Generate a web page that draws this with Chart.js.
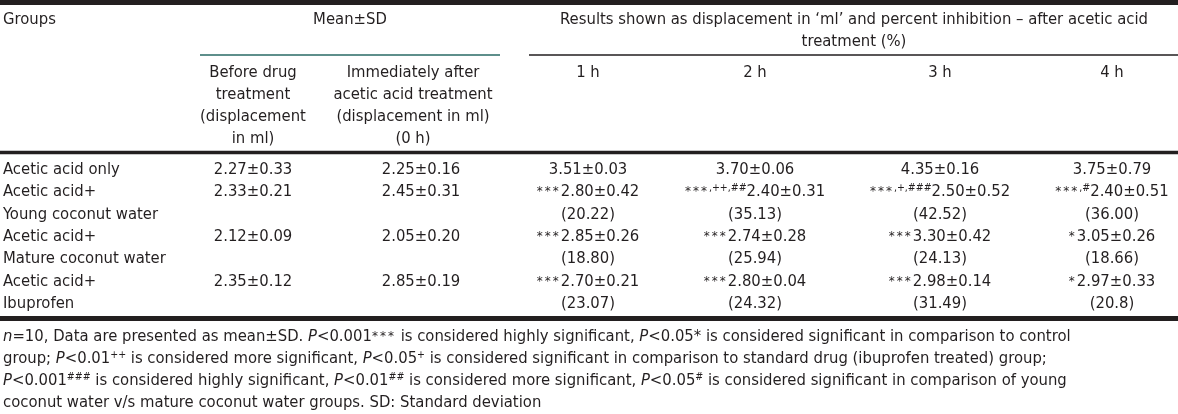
<!DOCTYPE html>
<html>
<head>
<meta charset="utf-8">
<script src="https://cdn.jsdelivr.net/npm/chart.js@4.4.1/dist/chart.umd.min.js"></script>
<style>
  body { margin: 0; background: #fff; }
  canvas { display: block; }
</style>
</head>
<body>
<canvas id="table" width="1178" height="414"></canvas>
<script>
// table contents
const groupNames = ['Acetic acid only', 'Acetic acid+', 'Acetic acid+', 'Acetic acid+'];
const groupSub = ['', 'Young coconut water', 'Mature coconut water', 'Ibuprofen'];
const beforeDrug = ['2.27±0.33', '2.33±0.21', '2.12±0.09', '2.35±0.12'];
const zeroHour = ['2.25±0.16', '2.45±0.31', '2.05±0.20', '2.85±0.19'];
const hourLabels = ['1 h', '2 h', '3 h', '4 h'];
const hour1 = ['3.51±0.03', '2.80±0.42', '2.85±0.26', '2.70±0.21'];
const hour2 = ['3.70±0.06', '2.40±0.31', '2.74±0.28', '2.80±0.04'];
const hour3 = ['4.35±0.16', '2.50±0.52', '3.30±0.42', '2.98±0.14'];
const hour4 = ['3.75±0.79', '2.40±0.51', '3.05±0.26', '2.97±0.33'];
const sig1 = ['', '***', '***', '***'];
const sig2 = ['', '***,++,##', '***', '***'];
const sig3 = ['', '***,+,###', '***', '***'];
const sig4 = ['', '***,#', '*', '*'];
const inhib1 = ['', '20.22', '18.80', '23.07'];
const inhib2 = ['', '35.13', '25.94', '24.32'];
const inhib3 = ['', '42.52', '24.13', '31.49'];
const inhib4 = ['', '36.00', '18.66', '20.8'];

const headGroups = 'Groups';
const headMean = 'Mean±SD';
const headResults = ['Results shown as displacement in ‘ml’ and percent inhibition – after acetic acid', 'treatment (%)'];
const headBefore = ['Before drug', 'treatment', '(displacement', 'in ml)'];
const headZero = ['Immediately after', 'acetic acid treatment', '(displacement in ml)', '(0 h)'];
// _x_ = italic, ^x^ = superscript
const footnote = [
  '_n_=10, Data are presented as mean±SD. _P_<0.001^***^ is considered highly significant, _P_<0.05* is considered significant in comparison to control',
  'group; _P_<0.01^++^ is considered more significant, _P_<0.05^+^ is considered significant in comparison to standard drug (ibuprofen treated) group;',
  '_P_<0.001^###^ is considered highly significant, _P_<0.01^##^ is considered more significant, _P_<0.05^#^ is considered significant in comparison of young',
  'coconut water v/s mature coconut water groups. SD: Standard deviation'
];

// layout
const FONT = '"DejaVu Sans Condensed", "DejaVu Sans"';
const SIZE = 16.5;
const INK = '#231f20';
const colX = { groups: 3, mean: 350, results: 854, before: 253, zeroHead: 413, zero: 421, hours: [588, 755, 940, 1112] };
const headY = [18, 40];
const subY = [71, 93, 115, 137];
const rowTop = 168, rowStep = 22.3;
const footY = [335, 357, 379, 401];

function parseMarkup(str) {
  const runs = [];
  const re = /_([^_]+)_|\^([^^]+)\^|([^_^]+)/g;
  let m;
  while ((m = re.exec(str))) {
    if (m[1]) runs.push({ t: m[1], s: 'i' });
    else if (m[2]) runs.push({ t: m[2], s: /^\*+$/.test(m[2]) ? 'a' : 'p' });
    else runs.push({ t: m[3], s: 'n' });
  }
  return runs;
}

function valueRuns(sig, val) {
  const runs = [];
  const stars = sig.match(/^\**/)[0];
  if (stars) runs.push({ t: stars, s: 'a' });
  if (sig.length > stars.length) runs.push({ t: sig.slice(stars.length), s: 'p' });
  runs.push({ t: val, s: 'n' });
  return runs;
}

// collect every cell as a point + its text
const cells = [];
function addCell(x, y, runs, align) { cells.push({ x, y, runs, align }); }
const plain = t => [{ t, s: 'n' }];

addCell(colX.groups, headY[0], plain(headGroups), 'left');
addCell(colX.mean, headY[0], plain(headMean), 'center');
headResults.forEach((t, i) => addCell(colX.results, headY[i], plain(t), 'center'));
headBefore.forEach((t, i) => addCell(colX.before, subY[i], plain(t), 'center'));
headZero.forEach((t, i) => addCell(colX.zeroHead, subY[i], plain(t), 'center'));
hourLabels.forEach((t, i) => addCell(colX.hours[i], subY[0], plain(t), 'center'));

const hours = [hour1, hour2, hour3, hour4];
const sigs = [sig1, sig2, sig3, sig4];
const inhibs = [inhib1, inhib2, inhib3, inhib4];
groupNames.forEach((g, r) => {
  const y = r === 0 ? rowTop : rowTop + rowStep * (2 * r - 1);
  addCell(colX.groups, y, plain(g), 'left');
  if (groupSub[r]) addCell(colX.groups, y + rowStep, plain(groupSub[r]), 'left');
  addCell(colX.before, y, plain(beforeDrug[r]), 'center');
  addCell(colX.zero, y, plain(zeroHour[r]), 'center');
  hours.forEach((h, c) => {
    addCell(colX.hours[c], y, valueRuns(sigs[c][r], h[r]), 'center');
    if (inhibs[c][r]) addCell(colX.hours[c], y + rowStep, plain('(' + inhibs[c][r] + ')'), 'center');
  });
});
footnote.forEach((line, i) => addCell(colX.groups, footY[i], parseMarkup(line), 'left'));

function fontFor(s) {
  if (s === 'i') return 'italic ' + SIZE + 'px ' + FONT;
  if (s === 'p') return (SIZE - 6) + 'px ' + FONT;
  if (s === 'a') return '12px "DejaVu Sans"';
  return SIZE + 'px ' + FONT;
}
function riseFor(s) {
  if (s === 'p') return -5;
  if (s === 'a') return -1;
  return 0;
}
function spacingFor(s) {
  return s === 'a' ? '2px' : '0px';
}

function drawRuns(ctx, runs, x, y, align) {
  let w = 0;
  runs.forEach(r => {
    ctx.font = fontFor(r.s);
    ctx.letterSpacing = spacingFor(r.s);
    w += ctx.measureText(r.t).width;
  });
  let cx = align === 'center' ? x - w / 2 : x;
  const base = y + 6;
  runs.forEach(r => {
    ctx.font = fontFor(r.s);
    ctx.letterSpacing = spacingFor(r.s);
    ctx.fillText(r.t, cx, base + riseFor(r.s));
    cx += ctx.measureText(r.t).width;
  });
  ctx.letterSpacing = '0px';
}

const tablePlugin = {
  id: 'tableText',
  beforeDatasetsDraw(chart) {
    const { ctx, scales: { x, y } } = chart;
    ctx.save();
    const hline = (x0, x1, yy, th, color) => {
      ctx.fillStyle = color;
      ctx.fillRect(x.getPixelForValue(x0), y.getPixelForValue(yy) - th / 2, x.getPixelForValue(x1) - x.getPixelForValue(x0), th);
    };
    hline(0, 1178, 2.5, 5, INK);          // top bar
    hline(200, 500, 55, 1.5, '#2a6b66');  // under Mean±SD
    hline(529, 1178, 55, 1.5, INK);       // under Results
    hline(0, 1178, 152.5, 3.5, INK);      // end of header
    hline(0, 1178, 318.5, 5, INK);        // bottom bar
    ctx.restore();
  },
  afterDatasetsDraw(chart) {
    const ctx = chart.ctx;
    const meta = chart.getDatasetMeta(0);
    ctx.save();
    ctx.fillStyle = INK;
    ctx.textAlign = 'left';
    ctx.textBaseline = 'alphabetic';
    meta.data.forEach((pt, i) => {
      const c = cells[i];
      drawRuns(ctx, c.runs, pt.x, pt.y, c.align);
    });
    ctx.restore();
  }
};

new Chart(document.getElementById('table'), {
  type: 'scatter',
  data: {
    datasets: [{
      label: 'cells',
      data: cells.map(c => ({ x: c.x, y: c.y })),
      pointRadius: 0,
      pointHoverRadius: 0
    }]
  },
  options: {
    responsive: false,
    animation: false,
    events: [],
    layout: { padding: 0 },
    plugins: { legend: { display: false }, tooltip: { enabled: false } },
    scales: {
      x: { type: 'linear', min: 0, max: 1178, display: false },
      y: { type: 'linear', min: 0, max: 414, reverse: true, display: false }
    }
  },
  plugins: [tablePlugin]
});
</script>
</body>
</html>
